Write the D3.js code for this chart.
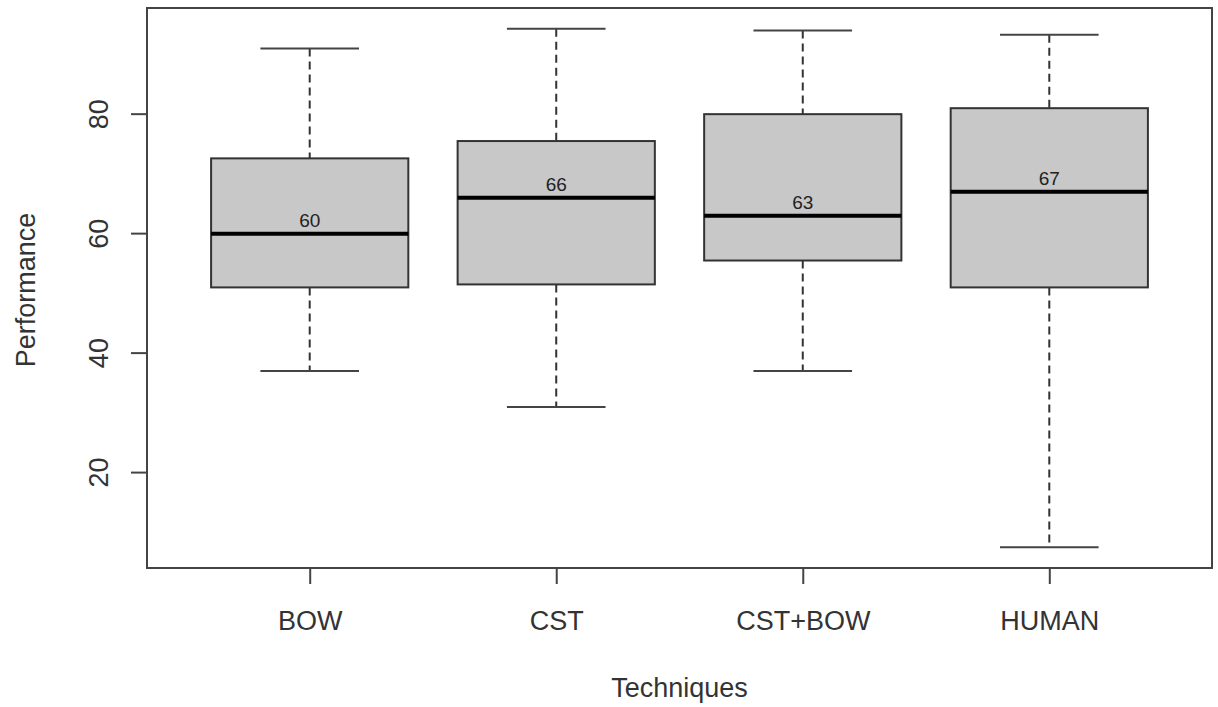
<!DOCTYPE html>
<html lang="en">
<head>
    <meta charset="UTF-8">
    <title>Performance by Technique</title>
    <script src="https://d3js.org/d3.v7.min.js" charset="utf-8"></script>
    <style>
        body { margin: 0; background: #fff; }
        svg { display: block; }
        text { font-family: "Liberation Sans", Arial, sans-serif; fill: #333; }
    </style>
</head>
<body>
    <div id="box_chart"></div>
    <script>
        // Data
        var techniques = ['BOW', 'CST', 'CST+BOW', 'HUMAN'];
        var whiskerLow  = [37, 31, 37, 7.5];
        var q1          = [51, 51.5, 55.5, 51];
        var medians     = [60, 66, 63, 67];
        var q3          = [72.6, 75.5, 80, 81];
        var whiskerHigh = [91, 94.3, 94, 93.3];
        var yTicks = [20, 40, 60, 80];

        var svgWidth = 1218;
        var svgHeight = 707;
        var plotLeft = 147, plotRight = 1212, plotTop = 8, plotBottom = 568;

        var svg = d3.select('#box_chart')
                    .append('svg')
                    .attr('width', svgWidth)
                    .attr('height', svgHeight);

        var boxes = techniques.map((t, i) => ({
            name: t, pos: i + 1,
            lo: whiskerLow[i], q1: q1[i], med: medians[i], q3: q3[i], hi: whiskerHigh[i]
        }));

        // R style range: data extent extended by 4%
        var yMin = d3.min(whiskerLow), yMax = d3.max(whiskerHigh);
        var yPad = (yMax - yMin) * 0.04;
        var yScale = d3.scaleLinear()
                        .domain([yMin - yPad, yMax + yPad])
                        .range([plotBottom, plotTop]);

        var xPad = techniques.length * 0.04;
        var xScale = d3.scaleLinear()
                        .domain([0.5 - xPad, techniques.length + 0.5 + xPad])
                        .range([plotLeft, plotRight]);
        var halfBox = xScale(0.4) - xScale(0);
        var halfCap = halfBox / 2;

        var g = svg.append('g');
        var bx = g.selectAll('g.box')
                  .data(boxes)
                  .enter()
                  .append('g')
                  .attr('class', 'box');

        // whiskers
        bx.append('line')
            .attr('x1', d => xScale(d.pos)).attr('x2', d => xScale(d.pos))
            .attr('y1', d => yScale(d.hi)).attr('y2', d => yScale(d.q3))
            .attr('stroke', '#333').attr('stroke-width', 2).attr('stroke-dasharray', '8,5');
        bx.append('line')
            .attr('x1', d => xScale(d.pos)).attr('x2', d => xScale(d.pos))
            .attr('y1', d => yScale(d.q1)).attr('y2', d => yScale(d.lo))
            .attr('stroke', '#333').attr('stroke-width', 2).attr('stroke-dasharray', '8,5');

        // caps
        bx.append('line')
            .attr('x1', d => xScale(d.pos) - halfCap).attr('x2', d => xScale(d.pos) + halfCap)
            .attr('y1', d => yScale(d.hi)).attr('y2', d => yScale(d.hi))
            .attr('stroke', '#444').attr('stroke-width', 2);
        bx.append('line')
            .attr('x1', d => xScale(d.pos) - halfCap).attr('x2', d => xScale(d.pos) + halfCap)
            .attr('y1', d => yScale(d.lo)).attr('y2', d => yScale(d.lo))
            .attr('stroke', '#444').attr('stroke-width', 2);

        // boxes
        bx.append('rect')
            .attr('x', d => xScale(d.pos) - halfBox)
            .attr('y', d => yScale(d.q3))
            .attr('width', halfBox * 2)
            .attr('height', d => yScale(d.q1) - yScale(d.q3))
            .attr('fill', '#c8c8c8')
            .attr('stroke', '#333')
            .attr('stroke-width', 2);

        // medians
        bx.append('line')
            .attr('x1', d => xScale(d.pos) - halfBox).attr('x2', d => xScale(d.pos) + halfBox)
            .attr('y1', d => yScale(d.med)).attr('y2', d => yScale(d.med))
            .attr('stroke', '#000').attr('stroke-width', 4);

        bx.append('text')
            .attr('x', d => xScale(d.pos))
            .attr('y', d => yScale(d.med) - 7)
            .attr('text-anchor', 'middle')
            .style('font-size', '19px')
            .style('fill', '#222')
            .text(d => d.med);

        // frame
        svg.append('rect')
            .attr('x', plotLeft).attr('y', plotTop)
            .attr('width', plotRight - plotLeft).attr('height', plotBottom - plotTop)
            .attr('fill', 'none').attr('stroke', '#444').attr('stroke-width', 2);

        // y axis
        var yAxis = d3.axisLeft(yScale).tickValues(yTicks).tickSize(16).tickSizeOuter(0);
        var ya = svg.append('g')
            .attr('transform', 'translate(' + plotLeft + ',0)')
            .call(yAxis);
        ya.select('.domain').remove();
        ya.selectAll('line').attr('stroke', '#444').attr('stroke-width', 2);
        ya.selectAll('text')
            .attr('transform', 'rotate(-90)')
            .attr('x', d => -yScale(d))
            .attr('y', -39)
            .attr('dy', 0)
            .attr('text-anchor', 'middle')
            .style('font-size', '27px')
            .style('fill', '#333');
        ya.selectAll('.tick').attr('transform', null);

        // x axis
        var xAxis = d3.axisBottom(xScale)
                      .tickValues(boxes.map(d => d.pos))
                      .tickFormat((d, i) => techniques[i])
                      .tickSize(16).tickSizeOuter(0);
        var xa = svg.append('g')
            .attr('transform', 'translate(0,' + plotBottom + ')')
            .call(xAxis);
        xa.select('.domain').remove();
        xa.selectAll('line').attr('stroke', '#444').attr('stroke-width', 2);
        xa.selectAll('text')
            .attr('y', 62).attr('dy', 0)
            .style('font-size', '27px')
            .style('fill', '#333');

        // y tick lines need their own offsets since the tick groups were reset
        ya.selectAll('.tick line')
            .attr('y1', d => yScale(d)).attr('y2', d => yScale(d));

        // axis titles
        svg.append('text')
            .attr('x', (plotLeft + plotRight) / 2)
            .attr('y', 697)
            .attr('text-anchor', 'middle')
            .style('font-size', '27px')
            .text('Techniques');

        svg.append('text')
            .attr('transform', 'rotate(-90)')
            .attr('x', -(plotTop + plotBottom) / 2 - 2)
            .attr('y', 35)
            .attr('text-anchor', 'middle')
            .style('font-size', '27px')
            .text('Performance');
    </script>
</body>
</html>
